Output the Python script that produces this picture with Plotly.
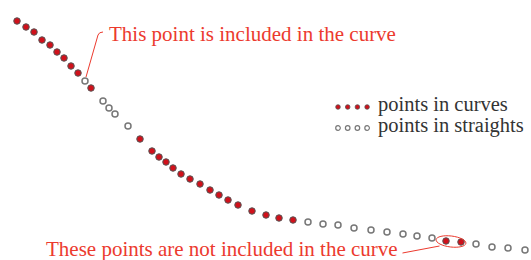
import math
import plotly.graph_objects as go

# Distance along the track (x) and elevation-like value (y) for each sample point
distance = [17, 26, 34, 42, 50, 57, 64, 71, 78, 85, 91, 103, 109, 115, 128, 140, 152, 159, 166, 173,
            181, 190, 200, 210, 219, 228, 238, 252, 266, 279, 293, 308, 323, 338, 354, 371, 387, 403,
            417, 432, 446, 461, 476, 492, 508, 525]
value = [239, 233, 228, 220, 215, 208, 202, 194, 187, 179, 172, 159, 152, 146, 134, 121, 109, 103, 98, 92,
         86, 81, 76, 70, 65, 60, 55, 49, 45, 42, 40, 38, 36, 35, 32, 30, 28, 26, 24, 22,
         19, 18, 16, 13, 12, 10]
segment = (["curve"] * 9 + ["straight"] + ["curve"] + ["straight"] * 4 + ["curve"] * 16
           + ["straight"] * 9 + ["curve"] * 2 + ["straight"] * 4)

legend_labels = ["points in curves", "points in straights"]
note_included = "This point is included in the curve"
note_excluded = "These points are not included in the curve"

RED = "#d0111b"
NOTE = "#ec3a2e"
GRAY = "#777777"
FONT = "Liberation Serif"

cx = [x for x, s in zip(distance, segment) if s == "curve"]
cy = [y for y, s in zip(value, segment) if s == "curve"]
sx = [x for x, s in zip(distance, segment) if s == "straight"]
sy = [y for y, s in zip(value, segment) if s == "straight"]

fig = go.Figure()
fig.add_trace(go.Scatter(x=sx, y=sy, mode="markers", name=legend_labels[1],
                         marker=dict(size=6, color="white", line=dict(color=GRAY, width=1.5))))
fig.add_trace(go.Scatter(x=cx, y=cy, mode="markers", name=legend_labels[0],
                         marker=dict(size=6.5, color=RED, line=dict(color="#555555", width=1))))

# Annotation 1: anchored at the 10th point
ax1, ay1 = distance[9], value[9]
fig.add_shape(type="path", xref="x", yref="y", xsizemode="pixel", ysizemode="pixel",
              xanchor=ax1, yanchor=ay1,
              path="M 1,4 L 13,46 Q 14,49 18,49",
              line=dict(color=NOTE, width=1))
fig.add_annotation(x=ax1, y=ay1, xref="x", yref="y", text=note_included, showarrow=False,
                   xanchor="left", yanchor="middle", xshift=22, yshift=47,
                   font=dict(family=FONT, size=21, color=NOTE))


def ellipse_path(cxp, cyp, rx, ry, ang_deg):
    k = 0.5523
    a = math.radians(ang_deg)
    ca, sa = math.cos(a), math.sin(a)

    def p(u, v):
        return (cxp + u * ca - v * sa, cyp + u * sa + v * ca)

    pts = [
        [(rx, 0)],
        [(rx, k * ry), (k * rx, ry), (0, ry)],
        [(-k * rx, ry), (-rx, k * ry), (-rx, 0)],
        [(-rx, -k * ry), (-k * rx, -ry), (0, -ry)],
        [(k * rx, -ry), (rx, -k * ry), (rx, 0)],
    ]
    s = "M %.2f,%.2f" % p(*pts[0][0])
    for seg in pts[1:]:
        s += " C " + " ".join("%.2f,%.2f" % p(u, v) for u, v in seg)
    return s + " Z"


# Annotation 2: ellipse around points 41 and 42
mx = (distance[40] + distance[41]) / 2
my = (value[40] + value[41]) / 2
fig.add_shape(type="path", xref="x", yref="y", xsizemode="pixel", ysizemode="pixel",
              xanchor=mx, yanchor=my, path=ellipse_path(-2.5, 0, 15, 5.5, -7),
              line=dict(color=NOTE, width=1))
fig.add_shape(type="path", xref="x", yref="y", xsizemode="pixel", ysizemode="pixel",
              xanchor=mx, yanchor=my,
              path="M -51,-11.5 L -14,-4.5",
              line=dict(color=NOTE, width=1))
fig.add_annotation(x=mx, y=my, xref="x", yref="y", text=note_excluded, showarrow=False,
                   xanchor="right", yanchor="middle", xshift=-54, yshift=-7,
                   font=dict(family=FONT, size=21, color=NOTE))

# Legend rows (glyph dots + labels)
W, H = 531, 260
rows = [(legend_labels[0], 104, RED, "#555555", 0.8), (legend_labels[1], 125, "white", GRAY, 1.2)]
for label, yc, fill, edge, lw in rows:
    for i in range(4):
        fig.add_shape(type="circle", xref="paper", yref="paper", xsizemode="pixel", ysizemode="pixel",
                      xanchor=(338 + 9.7 * i) / W, yanchor=1 - (yc + 3) / H,
                      x0=-2.3, x1=2.3, y0=-2.3, y1=2.3,
                      fillcolor=fill, line=dict(color=edge, width=lw))
    fig.add_annotation(x=376 / W, y=1 - yc / H, xref="paper", yref="paper", showarrow=False,
                       xanchor="left", yanchor="middle", text=label,
                       font=dict(family=FONT, size=20.5, color="#333333"))

fig.update_layout(width=W, height=H, margin=dict(l=0, r=0, t=0, b=0),
                  paper_bgcolor="white", plot_bgcolor="white", showlegend=False)
fig.update_xaxes(range=[0, 531], visible=False)
fig.update_yaxes(range=[0, 260], visible=False)

fig.write_html("out.html", config={"displayModeBar": False},
               post_script="document.body.style.margin='0';")
